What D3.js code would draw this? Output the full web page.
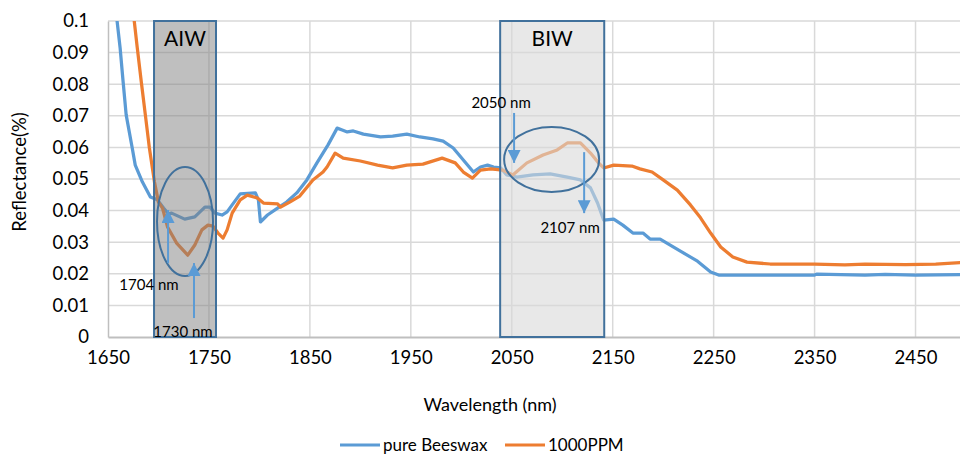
<!DOCTYPE html>
<html>
<head>
<meta charset="utf-8">
<script src="https://cdn.jsdelivr.net/npm/d3@7/dist/d3.min.js"></script>
<style>
  html, body { margin: 0; padding: 0; background: #fff; }
  svg { display: block; font-family: Lato, "Open Sans", sans-serif; }
</style>
</head>
<body>
<div id="chart"></div>
<script>
// wavelength (nm) / reflectance pairs
const beeswaxWl = [1656, 1659, 1662, 1665, 1668, 1674, 1677, 1684, 1692, 1699, 1705, 1710, 1713, 1726, 1736, 1746, 1751, 1756, 1763, 1768, 1773, 1781, 1796, 1799, 1801, 1808, 1818, 1827, 1837, 1847, 1857, 1868, 1877, 1882, 1887, 1893, 1903, 1920, 1932, 1946, 1959, 1972, 1982, 1992, 2002, 2012, 2019, 2026, 2032, 2039, 2045, 2055, 2071, 2088, 2105, 2118, 2128, 2135, 2141, 2151, 2160, 2170, 2180, 2187, 2197, 2207, 2220, 2234, 2247, 2255, 2300, 2350, 2352, 2400, 2420, 2450, 2500];
const beeswaxR  = [0.106, 0.100, 0.0915, 0.0807, 0.0703, 0.0598, 0.0544, 0.0491, 0.0443, 0.0434, 0.0408, 0.0389, 0.0392, 0.0373, 0.0380, 0.0411, 0.0411, 0.0392, 0.0386, 0.0396, 0.0418, 0.0453, 0.0456, 0.0434, 0.0364, 0.0386, 0.0408, 0.0427, 0.0456, 0.0497, 0.0551, 0.0608, 0.0661, 0.0655, 0.0649, 0.0652, 0.0642, 0.0633, 0.0636, 0.0642, 0.0633, 0.0627, 0.0620, 0.0598, 0.0560, 0.0522, 0.0538, 0.0544, 0.0538, 0.0535, 0.0513, 0.0506, 0.0513, 0.0516, 0.0506, 0.0497, 0.0472, 0.0424, 0.0370, 0.0373, 0.0354, 0.0329, 0.0329, 0.0310, 0.0310, 0.0291, 0.0266, 0.0240, 0.0206, 0.0196, 0.0196, 0.0196, 0.0199, 0.0196, 0.0198, 0.0196, 0.0198];

const ppmWl = [1674, 1676, 1679, 1683, 1687, 1691, 1696, 1700, 1704, 1709, 1718, 1729, 1736, 1743, 1749, 1754, 1759, 1764, 1768, 1773, 1781, 1788, 1798, 1804, 1818, 1821, 1830, 1840, 1853, 1863, 1867, 1875, 1883, 1900, 1917, 1932, 1946, 1962, 1981, 1994, 2002, 2011, 2019, 2029, 2041, 2051, 2065, 2081, 2095, 2105, 2118, 2128, 2136, 2141, 2151, 2169, 2177, 2189, 2200, 2214, 2227, 2237, 2247, 2257, 2269, 2283, 2306, 2350, 2380, 2400, 2440, 2470, 2500];
const ppmR  = [0.106, 0.100, 0.0915, 0.0807, 0.0703, 0.0598, 0.0491, 0.0427, 0.0408, 0.0348, 0.0297, 0.0259, 0.0291, 0.0339, 0.0354, 0.0351, 0.0329, 0.0313, 0.0339, 0.0392, 0.0434, 0.0449, 0.0440, 0.0424, 0.0421, 0.0411, 0.0427, 0.0446, 0.0497, 0.0522, 0.0538, 0.0582, 0.0566, 0.0557, 0.0544, 0.0535, 0.0544, 0.0547, 0.0566, 0.0551, 0.0522, 0.0503, 0.0528, 0.0532, 0.0528, 0.0513, 0.0551, 0.0576, 0.0592, 0.0614, 0.0614, 0.0582, 0.0551, 0.0535, 0.0544, 0.0541, 0.0532, 0.0522, 0.0497, 0.0465, 0.0418, 0.0377, 0.0329, 0.0285, 0.0253, 0.0237, 0.0231, 0.0231, 0.0228, 0.0231, 0.0229, 0.0231, 0.0236];

const seriesNames  = ["pure Beeswax", "1000PPM"];
const seriesColors = ["#5b9bd5", "#ed7d31"];

const xTicks = [1650, 1750, 1850, 1950, 2050, 2150, 2250, 2350, 2450];
const yTicks = [0, 0.01, 0.02, 0.03, 0.04, 0.05, 0.06, 0.07, 0.08, 0.09, 0.1];

// shaded windows [name, from, to]
const windows = [["AIW", 1695.6, 1757, "#808080", 0.5], ["BIW", 2038.5, 2141.6, "#d9d9d9", 0.6]];
// ellipses [cx wl, cy refl, rx px, ry px]
const ellipses = [[1726.3, 0.03655, 28, 54.5], [2089.5, 0.0562, 47.5, 32.5]];
// arrows [wl, from refl, to refl]
const arrows = [[1709.5, 0.0234, 0.0402], [1735.2, 0.0060, 0.0234], [2052.3, 0.0709, 0.0551], [2121.7, 0.0585, 0.0392]];
// labels [text, wl, refl]
const notes = [["1704 nm", 1690.6, 0.0165], ["1730 nm", 1724.3, 0.0016], ["2050 nm", 2039.4, 0.0740], ["2107 nm", 2107.8, 0.0345]];

const W = 960, H = 455;
const plot = {left: 108, top: 21, right: 966, bottom: 337};

const x = d3.scaleLinear().domain([1650, 2500]).range([plot.left, plot.right]);
const y = d3.scaleLinear().domain([0, 0.1]).range([plot.bottom, plot.top]);

const svg = d3.select("#chart").append("svg")
    .attr("width", W)
    .attr("height", H);

svg.append("defs").append("clipPath").attr("id", "clip")
  .append("rect")
    .attr("x", plot.left).attr("y", plot.top)
    .attr("width", plot.right - plot.left).attr("height", plot.bottom - plot.top);

// grid
svg.append("g").selectAll("line.h")
    .data(yTicks.slice(1))
    .enter().append("line")
    .attr("x1", plot.left).attr("x2", plot.right)
    .attr("y1", d => y(d)).attr("y2", d => y(d))
    .style("stroke", "#d9d9d9").style("stroke-width", 1.5);

svg.append("g").selectAll("line.v")
    .data(xTicks.slice(1))
    .enter().append("line")
    .attr("x1", d => x(d)).attr("x2", d => x(d))
    .attr("y1", plot.top).attr("y2", plot.bottom)
    .style("stroke", "#d9d9d9").style("stroke-width", 1.5);

// axes
const xAxis = d3.axisBottom(x).tickValues(xTicks).tickSize(0).tickPadding(14).tickFormat(d3.format("d"));
const yAxis = d3.axisLeft(y).tickValues(yTicks).tickSize(0).tickPadding(19).tickFormat(d => d === 0 ? "0" : d3.format(".2~f")(d));

svg.append("g")
    .attr("transform", `translate(0,${plot.bottom})`)
    .call(xAxis)
    .call(g => g.select(".domain").style("stroke", "#bfbfbf").style("stroke-width", 2))
    .call(g => g.selectAll("text").style("font-size", "18.5px").style("font-family", "Lato").style("fill", "#000"));

svg.append("g")
    .attr("transform", `translate(${plot.left},0)`)
    .call(yAxis)
    .call(g => g.select(".domain").style("stroke", "#bfbfbf").style("stroke-width", 1.5))
    .call(g => g.selectAll("text").style("font-size", "18.5px").style("font-family", "Lato").style("fill", "#000"));

// series
const line = d3.line().x(d => x(d[0])).y(d => y(d[1]));
const series = [d3.zip(beeswaxWl, beeswaxR), d3.zip(ppmWl, ppmR)];

svg.append("g").attr("clip-path", "url(#clip)")
  .selectAll("path")
    .data(series)
    .enter().append("path")
    .attr("d", line)
    .style("fill", "none")
    .style("stroke", (d, i) => seriesColors[i])
    .style("stroke-width", 3.25)
    .style("stroke-linejoin", "round");

// shaded windows
svg.append("g").selectAll("rect")
    .data(windows)
    .enter().append("rect")
    .attr("x", d => x(d[1]))
    .attr("y", plot.top)
    .attr("width", d => x(d[2]) - x(d[1]))
    .attr("height", plot.bottom - plot.top)
    .style("fill", d => d[3])
    .style("fill-opacity", d => d[4])
    .style("stroke", "#41719c")
    .style("stroke-width", 2);

svg.append("g").selectAll("text")
    .data(windows)
    .enter().append("text")
    .attr("x", d => (x(d[1]) + x(d[2])) / 2)
    .attr("y", 46)
    .attr("text-anchor", "middle")
    .style("font-size", "21px")
    .text(d => d[0]);

svg.append("g").selectAll("ellipse")
    .data(ellipses)
    .enter().append("ellipse")
    .attr("cx", d => x(d[0]))
    .attr("cy", d => y(d[1]))
    .attr("rx", d => d[2])
    .attr("ry", d => d[3])
    .style("fill", "none")
    .style("stroke", "#41719c")
    .style("stroke-width", 2);

// arrows
svg.select("defs").append("marker")
    .attr("id", "head")
    .attr("viewBox", "0 0 10 10")
    .attr("refX", 10).attr("refY", 5)
    .attr("markerUnits", "userSpaceOnUse")
    .attr("markerWidth", 14).attr("markerHeight", 13)
    .attr("orient", "auto")
  .append("path")
    .attr("d", "M0,0L10,5L0,10Z")
    .style("fill", "#5b9bd5");

svg.append("g").selectAll("line")
    .data(arrows)
    .enter().append("line")
    .attr("x1", d => x(d[0])).attr("x2", d => x(d[0]))
    .attr("y1", d => y(d[1])).attr("y2", d => y(d[2]))
    .attr("marker-end", "url(#head)")
    .style("stroke", "#5b9bd5")
    .style("stroke-width", 2);

svg.append("g").selectAll("text")
    .data(notes)
    .enter().append("text")
    .attr("x", d => x(d[1]))
    .attr("y", d => y(d[2]))
    .attr("dy", "0.35em")
    .attr("text-anchor", "middle")
    .style("font-size", "15px")
    .text(d => d[0]);

// axis titles
svg.append("text")
    .attr("transform", `translate(26,172) rotate(-90)`)
    .attr("text-anchor", "middle")
    .style("font-size", "18.5px")
    .text("Reflectance(%)");

svg.append("text")
    .attr("x", 490).attr("y", 411)
    .attr("text-anchor", "middle")
    .style("font-size", "18px")
    .text("Wavelength (nm)");

// legend
const legendX = [340, 505];
const legend = svg.append("g").selectAll("g")
    .data(seriesNames)
    .enter().append("g")
    .attr("transform", (d, i) => `translate(${legendX[i]},445)`);

legend.append("line")
    .attr("x1", 0).attr("x2", 40)
    .style("stroke", (d, i) => seriesColors[i])
    .style("stroke-width", 3);

legend.append("text")
    .attr("x", 43)
    .attr("dy", "0.35em")
    .style("font-size", "17px")
    .text(d => d);
</script>
</body>
</html>
